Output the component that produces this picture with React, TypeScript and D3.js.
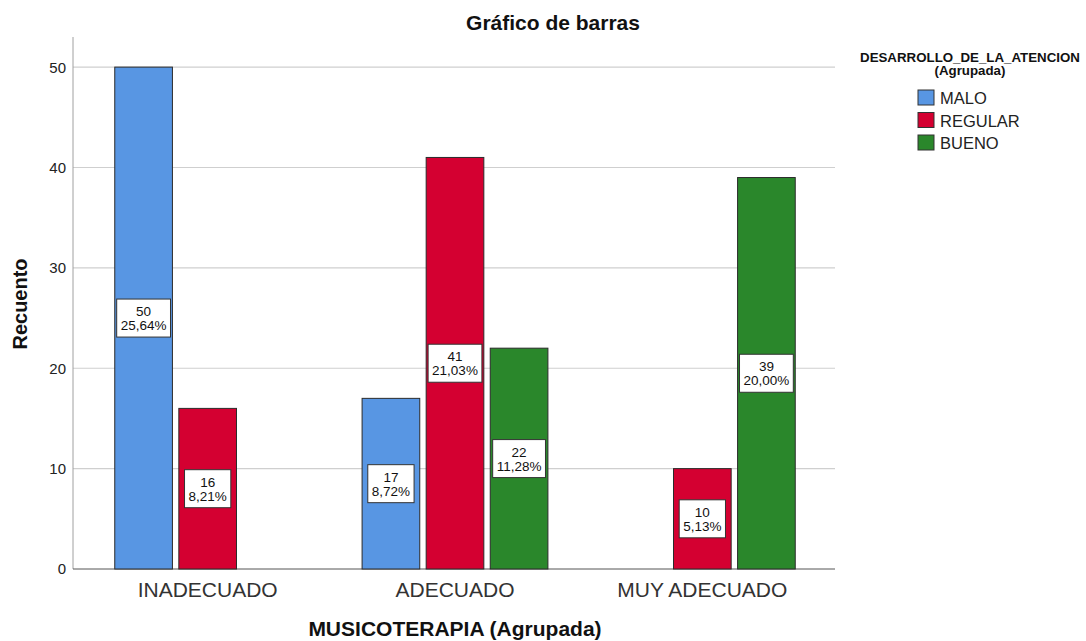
import * as d3 from "d3";
import { useEffect, useRef } from "react";

const categories = ["INADECUADO", "ADECUADO", "MUY ADECUADO"];
const seriesNames = ["MALO", "REGULAR", "BUENO"];
const maloCounts = [50, 17, 0];
const regularCounts = [16, 41, 10];
const buenoCounts = [0, 22, 39];
const yTicks = [0, 10, 20, 30, 40, 50];
const total = 195;

const colors: Record<string, string> = {
  MALO: "#5896e3",
  REGULAR: "#d40031",
  BUENO: "#2a872b",
};

export default function App() {
  const ref = useRef<SVGSVGElement | null>(null);

  useEffect(() => {
    if (!ref.current) return;
    const font = "'Liberation Sans', Arial, sans-serif";

    const svg = d3.select(ref.current);
    svg.selectAll("*").remove();
    svg.style("font-family", font);

    const left = 73;
    const right = 835;
    const bottom = 569;
    const top = 37;

    const x0 = d3.scaleBand().domain(categories).range([84, 826]);
    const x1 = d3
      .scaleBand()
      .domain(seriesNames)
      .range([0, x0.bandwidth()])
      .paddingInner(0.1)
      .paddingOuter(0.48);
    const y = d3.scaleLinear().domain([0, 53]).range([bottom, top]);

    const countsBySeries: Record<string, number[]> = {
      MALO: maloCounts,
      REGULAR: regularCounts,
      BUENO: buenoCounts,
    };

    const rows = categories
      .flatMap((c, i) => seriesNames.map((s) => ({ cat: c, s, v: countsBySeries[s][i] })))
      .filter((r) => r.v > 0);

    // grid
    svg
      .append("g")
      .selectAll("line")
      .data(yTicks.filter((t) => t > 0))
      .join("line")
      .attr("x1", left)
      .attr("x2", right)
      .attr("y1", (d) => y(d))
      .attr("y2", (d) => y(d))
      .attr("stroke", "#cfcfcf")
      .attr("stroke-width", 1.2);

    // axis lines
    svg.append("line").attr("x1", left).attr("x2", left).attr("y1", top).attr("y2", bottom)
      .attr("stroke", "#a0a0a0").attr("stroke-width", 1);
    svg.append("line").attr("x1", left).attr("x2", right).attr("y1", bottom).attr("y2", bottom)
      .attr("stroke", "#555").attr("stroke-width", 1);

    // y tick labels
    svg
      .append("g")
      .selectAll("text")
      .data(yTicks)
      .join("text")
      .attr("x", left - 7)
      .attr("y", (d) => y(d))
      .attr("dy", "0.36em")
      .attr("text-anchor", "end")
      .style("font-size", "15px")
      .attr("fill", "#222")
      .text((d) => d);

    // bars
    svg
      .append("g")
      .selectAll("rect")
      .data(rows)
      .join("rect")
      .attr("x", (d) => (x0(d.cat) ?? 0) + (x1(d.s) ?? 0))
      .attr("y", (d) => y(d.v))
      .attr("width", x1.bandwidth())
      .attr("height", (d) => bottom - y(d.v))
      .attr("fill", (d) => colors[d.s])
      .attr("stroke", "#2b2b2b")
      .attr("stroke-width", 1);

    // value labels
    const fmtPct = (v: number) => ((v / total) * 100).toFixed(2).replace(".", ",") + "%";
    const lab = svg.append("g").selectAll("g").data(rows).join("g");
    lab.each(function (d) {
      const g = d3.select(this);
      const cx = (x0(d.cat) ?? 0) + (x1(d.s) ?? 0) + x1.bandwidth() / 2;
      const cy = y(d.v / 2);
      const rect = g.append("rect");
      const t1 = g.append("text").attr("x", cx).attr("y", cy - 2).attr("text-anchor", "middle")
        .style("font-size", "13.5px").attr("fill", "#111").text(d.v);
      const t2 = g.append("text").attr("x", cx).attr("y", cy + 12).attr("text-anchor", "middle")
        .style("font-size", "13.5px").attr("fill", "#111").text(fmtPct(d.v));
      const w = Math.max(
        (t1.node() as SVGTextElement).getComputedTextLength(),
        (t2.node() as SVGTextElement).getComputedTextLength()
      ) + 8;
      rect.attr("x", cx - w / 2).attr("y", cy - 19).attr("width", w).attr("height", 38)
        .attr("fill", "#fff").attr("stroke", "#333").attr("stroke-width", 1);
    });

    // category labels
    svg
      .append("g")
      .selectAll("text")
      .data(categories)
      .join("text")
      .attr("x", (d) => (x0(d) ?? 0) + x0.bandwidth() / 2)
      .attr("y", 597)
      .attr("text-anchor", "middle")
      .style("font-size", "21px")
      .attr("fill", "#333")
      .text((d) => d);

    // axis titles
    svg.append("text").attr("x", 455).attr("y", 636).attr("text-anchor", "middle")
      .style("font-size", "21px").style("font-weight", "bold").attr("fill", "#111")
      .text("MUSICOTERAPIA (Agrupada)");
    svg.append("text").attr("transform", `translate(27,304) rotate(-90)`).attr("text-anchor", "middle")
      .style("font-size", "20px").style("font-weight", "bold").attr("fill", "#111")
      .text("Recuento");

    // title
    svg.append("text").attr("x", 553).attr("y", 30).attr("text-anchor", "middle")
      .style("font-size", "21px").style("font-weight", "bold").attr("fill", "#111")
      .text("Gráfico de barras");

    // legend
    const lg = svg.append("g");
    lg.append("text").attr("x", 970).attr("y", 62).attr("text-anchor", "middle")
      .style("font-size", "13.3px").style("font-weight", "bold").attr("fill", "#111")
      .text("DESARROLLO_DE_LA_ATENCION");
    lg.append("text").attr("x", 970).attr("y", 75).attr("text-anchor", "middle")
      .style("font-size", "13.3px").style("font-weight", "bold").attr("fill", "#111")
      .text("(Agrupada)");
    const items = lg.selectAll("g.item").data(seriesNames).join("g")
      .attr("transform", (_d, i) => `translate(918,${90 + i * 22.5})`);
    items.append("rect").attr("width", 16).attr("height", 15)
      .attr("fill", (d) => colors[d]).attr("stroke", "#333").attr("stroke-width", 1);
    items.append("text").attr("x", 22).attr("y", 14).style("font-size", "16.5px").attr("fill", "#222")
      .text((d) => d);
  }, []);

  return (
    <div style={{ position: "absolute", left: 0, top: 0, background: "#fff" }}>
      <svg ref={ref} width={1086} height={641} style={{ display: "block" }} />
    </div>
  );
}
